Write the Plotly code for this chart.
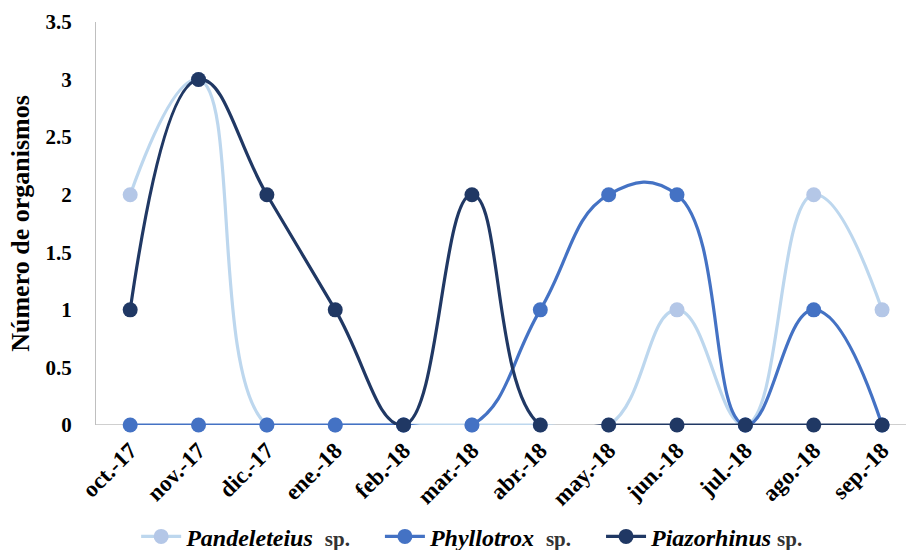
import plotly.graph_objects as go

months = ["oct.-17", "nov.-17", "dic.-17", "ene.-18", "feb.-18", "mar.-18",
          "abr.-18", "may.-18", "jun.-18", "jul.-18", "ago.-18", "sep.-18"]
pandeleteius = [2, 3, 0, 0, 0, 0, 0, 0, 1, 0, 2, 1]
phyllotrox = [0, 0, 0, 0, 0, 0, 1, 2, 2, 0, 1, 0]
piazorhinus = [1, 3, 2, 1, 0, 2, 0, 0, 0, 0, 0, 0]
y_ticks = [0, 0.5, 1, 1.5, 2, 2.5, 3, 3.5]
y_tick_text = ["0", "0.5", "1", "1.5", "2", "2.5", "3", "3.5"]

x = list(range(len(months)))
font = "Liberation Serif, Times New Roman, serif"
sp = "<span style='font-size:21px;color:#333'>sp.</span>"
pad = "&nbsp;" * 4

series = [
    ("<i>Pandeleteius</i>  " + sp + pad, pandeleteius, "#bdd7ee", "#b4c7e7"),
    ("<i>Phyllotrox</i>  " + sp + pad, phyllotrox, "#4472c4", "#4472c4"),
    ("<i>Piazorhinus</i> " + sp, piazorhinus, "#203864", "#203864"),
]

fig = go.Figure()
for name, vals, lc, mc in series:
    fig.add_trace(go.Scatter(
        x=x, y=vals, name=name, mode="lines+markers",
        line=dict(color=lc, width=3.2, shape="spline", smoothing=1.3),
        marker=dict(color=mc, size=15),
        cliponaxis=False,
    ))

fig.update_layout(
    width=906, height=550,
    margin=dict(l=96, r=0, t=22, b=125, autoexpand=False),
    paper_bgcolor="white", plot_bgcolor="white",
    font=dict(family=font, size=22, color="black"),
    showlegend=True,
    legend=dict(orientation="h", x=0.465, xanchor="center",
                yref="container", y=0.024, yanchor="middle",
                font=dict(family=font, size=24, color="black", weight="bold"),
                itemwidth=40, tracegroupgap=0),
    xaxis=dict(
        range=[-0.5, 11.35], tickmode="array", tickvals=x, ticktext=months,
        tickangle=-45, showgrid=False, zeroline=False, showline=False,
        ticks="outside", ticklen=2, tickcolor="rgba(0,0,0,0)", automargin=False,
        tickfont=dict(family=font, size=23, weight="bold"),
    ),
    yaxis=dict(
        range=[0, 3.5], tickmode="array", tickvals=y_ticks, ticktext=y_tick_text,
        showgrid=False, zeroline=False, showline=True, linecolor="#bfbfbf", linewidth=1.3,
        ticks="outside", ticklen=19, tickcolor="rgba(0,0,0,0)", automargin=False,
        tickfont=dict(family=font, size=21, weight="bold"),
        title=dict(text="Número de organismos", standoff=8,
                   font=dict(family=font, size=26, weight="bold")),
    ),
)
fig.add_shape(type="line", xref="paper", yref="y", x0=0, x1=1, y0=0, y1=0,
              line=dict(color="#bfbfbf", width=1.3), layer="below")

fig.write_html("out.html")
